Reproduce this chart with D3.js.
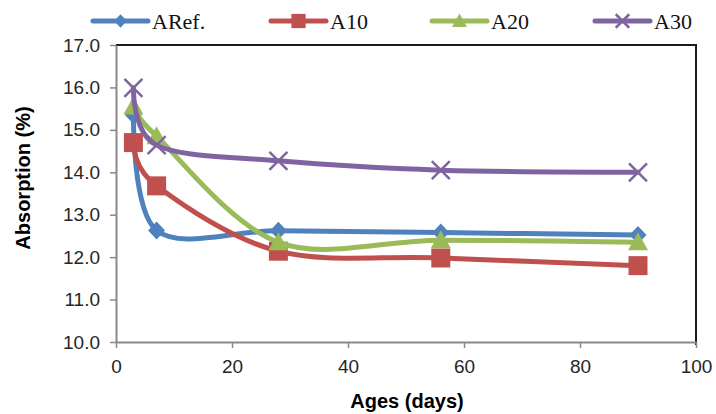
<!DOCTYPE html>
<html>
<head>
<meta charset="utf-8">
<script src="https://cdn.jsdelivr.net/npm/d3@7"></script>
<style>
  body { margin: 0; background: #fff; }
  svg { display: block; }
</style>
</head>
<body>
<div id="chart"></div>
<script>
// ages in days
var ages = [3, 7, 28, 56, 90];
var aRef = [15.35, 12.63, 12.62, 12.58, 12.52];
var a10 = [14.70, 13.68, 12.14, 11.98, 11.80];
var a20 = [15.55, 14.85, 12.35, 12.40, 12.35];
var a30 = [15.99, 14.64, 14.27, 14.05, 14.00];
var seriesNames = ["ARef.", "A10", "A20", "A30"];
var xTicks = [0, 20, 40, 60, 80, 100];
var yTicks = [10, 11, 12, 13, 14, 15, 16, 17];

var colors = ["#4F81BD", "#C0504D", "#9BBB59", "#8064A2"];
var symbols = ["diamond", "square", "triangle", "x"];

var width = 716, height = 414;
var svg = d3.select("#chart").append("svg")
    .attr("width", width)
    .attr("height", height);

var x = d3.scaleLinear().domain([0, 100]).range([116, 696]);
var y = d3.scaleLinear().domain([10, 17]).range([342, 45]);

var axisColor = "#898989";
var sans = "Liberation Sans, Arial, sans-serif";

// plot border, top and right (black)
svg.append("path")
    .attr("d", "M" + x(0) + "," + y(17) + "H" + x(100) + "V" + (y(10) + 3))
    .attr("fill", "none")
    .attr("stroke", "#1a1a1a")
    .attr("stroke-width", 2);

// y axis
var gy = svg.append("g")
    .attr("transform", "translate(116,0)")
    .call(d3.axisLeft(y).tickValues(yTicks).tickSize(6).tickSizeOuter(0).tickFormat(d3.format(".1f")));
gy.select(".domain").attr("stroke", axisColor).attr("stroke-width", 2);
gy.selectAll(".tick line").attr("stroke", axisColor).attr("stroke-width", 1.5);
gy.selectAll(".tick text")
    .attr("x", -16)
    .attr("fill", "#262626")
    .style("font-family", sans)
    .style("font-size", "19px");

// x axis
var gx = svg.append("g")
    .attr("transform", "translate(0,342)")
    .call(d3.axisBottom(x).tickValues(xTicks).tickSize(6).tickSizeOuter(0));
gx.select(".domain").attr("stroke", axisColor).attr("stroke-width", 2);
gx.selectAll(".tick line").attr("stroke", axisColor).attr("stroke-width", 1.5);
gx.selectAll(".tick text")
    .attr("y", 18)
    .attr("fill", "#262626")
    .style("font-family", sans)
    .style("font-size", "19px");

// axis titles
svg.append("text")
    .attr("x", 407).attr("y", 408)
    .attr("text-anchor", "middle")
    .style("font-family", sans)
    .style("font-size", "20px").style("font-weight", "bold")
    .text("Ages (days)");

svg.append("text")
    .attr("transform", "translate(30,178) rotate(-90)")
    .attr("text-anchor", "middle")
    .style("font-family", sans)
    .style("font-size", "20px").style("font-weight", "bold")
    .text("Absorption (%)");

var allSeries = [aRef, a10, a20, a30];

var line = d3.line()
    .x(function (d, i) { return x(ages[i]); })
    .y(function (d) { return y(d); })
    .curve(d3.curveCardinal.tension(0));

function drawMarker(g, kind, color, cx, cy, k) {
    k = k || 1;
    var t = "translate(" + cx + "," + cy + ") scale(" + k + ")";
    if (kind === "diamond") {
        g.append("path")
            .attr("d", "M0,-9L8.5,0L0,9L-8.5,0Z")
            .attr("transform", t)
            .attr("fill", color);
    } else if (kind === "square") {
        g.append("path")
            .attr("d", "M-9.5,-9.5H9.5V9.5H-9.5Z")
            .attr("transform", t)
            .attr("fill", color);
    } else if (kind === "triangle") {
        g.append("path")
            .attr("d", "M0,-10L10,8L-10,8Z")
            .attr("transform", t)
            .attr("fill", color);
    } else {
        g.append("path")
            .attr("d", "M-9,-9L9,9M-9,9L9,-9")
            .attr("transform", t)
            .attr("stroke", color)
            .attr("stroke-width", 2.5 / k)
            .attr("fill", "none");
    }
}

allSeries.forEach(function (vals, s) {
    var g = svg.append("g");
    g.append("path")
        .datum(vals)
        .attr("fill", "none")
        .attr("stroke", colors[s])
        .attr("stroke-width", 5)
        .attr("stroke-linejoin", "round")
        .attr("stroke-linecap", "round")
        .attr("d", line);
    vals.forEach(function (v, i) {
        drawMarker(g, symbols[s], colors[s], x(ages[i]), y(v));
    });
});

// legend
var legendX = [93, 271, 432, 595];
var leg = svg.append("g");
seriesNames.forEach(function (name, s) {
    var lx = legendX[s];
    leg.append("line")
        .attr("x1", lx).attr("x2", lx + 55)
        .attr("y1", 21).attr("y2", 21)
        .attr("stroke", colors[s])
        .attr("stroke-width", 5)
        .attr("stroke-linecap", "round");
    drawMarker(leg, symbols[s], colors[s], lx + 27.5, 21, 0.75);
    leg.append("text")
        .attr("x", lx + 59).attr("y", 29)
        .style("font-family", "Liberation Serif, Times New Roman, serif")
        .style("font-size", "22px")
        .attr("fill", "#111")
        .text(name);
});
</script>
</body>
</html>
